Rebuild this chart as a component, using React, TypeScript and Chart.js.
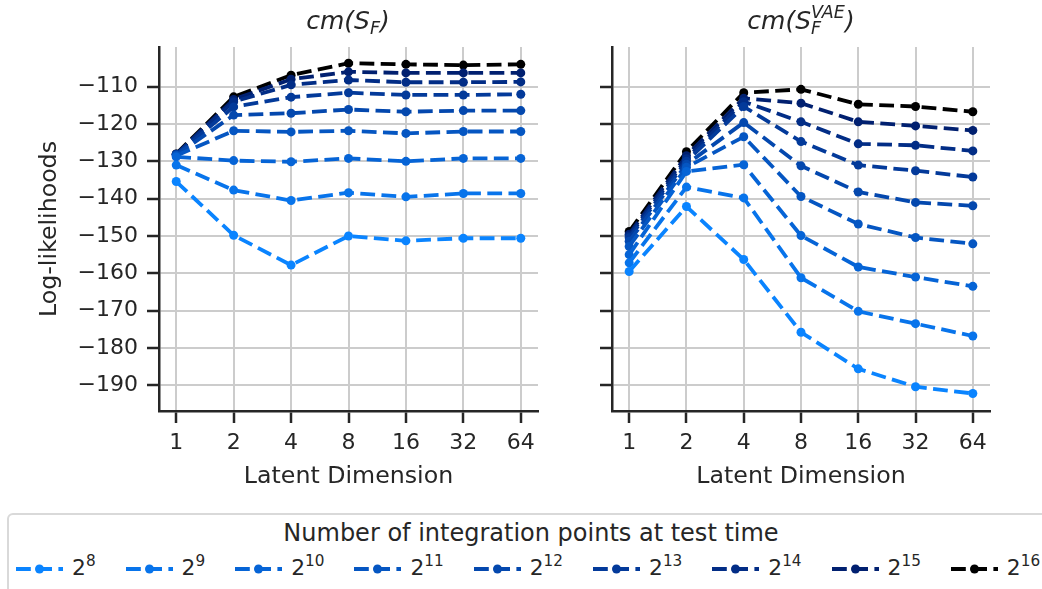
import React, { useEffect, useRef } from 'react';
import { Chart, registerables } from 'chart.js';

Chart.register(...registerables);

// ---- Data ----
const latentDims = ['1', '2', '4', '8', '16', '32', '64'];
const exponents = [8, 9, 10, 11, 12, 13, 14, 15, 16];
const yTickValues = [-190, -180, -170, -160, -150, -140, -130, -120, -110];
const seriesColors = [
  '#0a84ff', '#0874eb', '#0664d6', '#0556c2', '#0448ae',
  '#033a9a', '#022d86', '#012070', '#000000',
];

// cm(S_F)
const sf8 = [-135.4, -149.8, -157.8, -150.0, -151.3, -150.6, -150.6];
const sf9 = [-131.0, -137.7, -140.5, -138.4, -139.5, -138.6, -138.6];
const sf10 = [-128.8, -129.8, -130.1, -129.2, -130.0, -129.2, -129.2];
const sf11 = [-128.5, -121.8, -122.1, -121.8, -122.5, -122.0, -122.0];
const sf12 = [-128.3, -117.6, -117.1, -116.1, -116.7, -116.4, -116.4];
const sf13 = [-128.2, -115.4, -112.8, -111.6, -112.2, -112.2, -112.0];
const sf14 = [-128.1, -114.0, -109.5, -108.2, -108.8, -108.8, -108.7];
const sf15 = [-128.1, -113.4, -108.0, -106.0, -106.3, -106.3, -106.3];
const sf16 = [-128.0, -112.7, -106.9, -103.7, -104.0, -104.2, -104.0];

// cm(S_F^VAE)
const vae8 = [-159.5, -142.1, -156.3, -175.8, -185.6, -190.4, -192.2];
const vae9 = [-157.2, -136.9, -139.8, -161.2, -170.2, -173.5, -176.8];
const vae10 = [-155.0, -132.7, -130.9, -149.9, -158.3, -161.0, -163.5];
const vae11 = [-152.8, -131.6, -123.4, -139.4, -146.8, -150.4, -152.1];
const vae12 = [-151.4, -130.8, -119.6, -131.2, -138.2, -141.0, -141.9];
const vae13 = [-150.5, -130.0, -115.3, -124.7, -131.0, -132.5, -134.2];
const vae14 = [-150.0, -129.3, -114.0, -119.4, -125.3, -125.7, -127.2];
const vae15 = [-149.5, -128.5, -113.1, -114.4, -119.4, -120.5, -121.7];
const vae16 = [-148.8, -127.4, -111.6, -110.7, -114.7, -115.3, -116.7];

const sfSeries = [sf8, sf9, sf10, sf11, sf12, sf13, sf14, sf15, sf16];
const vaeSeries = [vae8, vae9, vae10, vae11, vae12, vae13, vae14, vae15, vae16];

// ---- Style ----
const FONT = 'DejaVu Sans';
const TEXT = '#262626';
const GRID = '#cccccc';
const LINE_W = 3.8;
const DASH = [14.8, 6.4];

function buildChart(canvas: HTMLCanvasElement, series: number[][], isLeft: boolean) {
  const datasets = series.map((vals, k) => ({
    label: '2^' + exponents[k],
    data: vals.map((v, i) => ({ x: i, y: v })),
    borderColor: seriesColors[k],
    backgroundColor: seriesColors[k],
    pointBackgroundColor: seriesColors[k],
    pointBorderColor: seriesColors[k],
    pointBorderWidth: 0,
    pointRadius: 4.5,
    borderWidth: LINE_W,
    borderDash: DASH,
    tension: 0,
    fill: false,
  }));
  const tickFont = { family: FONT, size: 22 };
  const labelFont = { family: FONT, size: 23.7 };
  return new Chart(canvas, {
    type: 'line',
    data: { datasets },
    options: {
      animation: false,
      responsive: false,
      devicePixelRatio: 1,
      layout: { padding: { top: 47, right: isLeft ? 32 : 52, bottom: 0, left: 0 } },
      plugins: {
        legend: { display: false },
        tooltip: { enabled: false },
        title: { display: false },
      },
      scales: {
        x: {
          type: 'linear',
          min: -0.3,
          max: 6.3,
          afterBuildTicks: (s: any) => {
            s.ticks = latentDims.map((_, i) => ({ value: i }));
          },
          afterFit: (s: any) => {
            s.height = 89;
          },
          ticks: {
            callback: (v: any) => latentDims[v],
            font: tickFont,
            color: TEXT,
            padding: 7,
            maxRotation: 0,
            autoSkip: false,
          },
          grid: { color: GRID, lineWidth: 2, tickColor: TEXT, tickWidth: 2.5, tickLength: 12 },
          border: { display: true, color: TEXT, width: 2.5 },
          title: {
            display: true,
            text: 'Latent Dimension',
            font: labelFont,
            color: TEXT,
            padding: { top: 0, bottom: 8.8 },
          },
        },
        y: {
          type: 'linear',
          min: -196.9,
          max: -99.35,
          afterBuildTicks: (s: any) => {
            s.ticks = yTickValues.map((v) => ({ value: v }));
          },
          afterFit: (s: any) => {
            s.width = isLeft ? 159 : 42;
          },
          ticks: {
            display: isLeft,
            callback: (v: any) => '\u2212' + Math.abs(v),
            font: tickFont,
            color: TEXT,
            padding: 9,
          },
          grid: { color: GRID, lineWidth: 2, tickColor: TEXT, tickWidth: 2.5, tickLength: 12 },
          border: { display: true, color: TEXT, width: 2.5 },
          title: {
            display: isLeft,
            text: 'Log-likelihoods',
            font: labelFont,
            color: TEXT,
            padding: { top: 35.8, bottom: 0 },
          },
        },
      },
    } as any,
  });
}

function Panel({ series, isLeft, left, width }: { series: number[][]; isLeft: boolean; left: number; width: number }) {
  const ref = useRef<HTMLCanvasElement>(null);
  useEffect(() => {
    if (!ref.current) return;
    const chart = buildChart(ref.current, series, isLeft);
    return () => chart.destroy();
  }, []);
  return (
    <canvas
      ref={ref}
      width={width}
      height={500}
      style={{ position: 'absolute', left, top: 0, width, height: 500 }}
    />
  );
}

function LegendSample({ color }: { color: string }) {
  return (
    <svg width={47} height={14} style={{ display: 'block', marginTop: 5, flex: 'none' }}>
      <line
        x1={0}
        y1={7}
        x2={47}
        y2={7}
        stroke={color}
        strokeWidth={LINE_W}
        strokeDasharray={DASH.join(' ')}
      />
      <circle cx={23.5} cy={7} r={4.5} fill={color} />
    </svg>
  );
}

export default function App() {
  const titleStyle: React.CSSProperties = {
    position: 'absolute',
    top: 5.5,
    width: 300,
    textAlign: 'center',
    fontFamily: FONT,
    fontStyle: 'italic',
    fontSize: 25,
    lineHeight: '30px',
    color: TEXT,
    whiteSpace: 'nowrap',
  };
  return (
    <div
      style={{
        position: 'fixed',
        left: 0,
        top: 0,
        width: 1042,
        height: 589,
        overflow: 'hidden',
        background: '#ffffff',
        fontFamily: FONT,
      }}
    >
      <Panel series={sfSeries} isLeft={true} left={0} width={570} />
      <Panel series={vaeSeries} isLeft={false} left={570} width={472} />

      <div style={{ ...titleStyle, left: 348 - 150 }}>
        cm(S
        <span style={{ position: 'relative', top: '0.3em', fontSize: '0.7em', lineHeight: 0 }}>F</span>)
      </div>
      <div style={{ ...titleStyle, left: 801 - 150 }}>
        cm(S
        <span style={{ position: 'relative', top: '-0.6em', fontSize: '0.7em', lineHeight: 0 }}>
          VAE
          <span style={{ position: 'absolute', left: 0, top: '0.9em', lineHeight: 'normal' }}>F</span>
        </span>
        )
      </div>

      <div
        style={{
          position: 'absolute',
          left: 7,
          top: 513,
          width: 1048,
          height: 90,
          border: '2px solid #d9d9d9',
          borderRadius: 6,
          background: '#ffffff',
          boxSizing: 'border-box',
        }}
      />
      <div
        style={{
          position: 'absolute',
          left: 7,
          width: 1048,
          top: 518,
          textAlign: 'center',
          fontSize: 24,
          lineHeight: '30px',
          color: TEXT,
          whiteSpace: 'nowrap',
        }}
      >
        Number of integration points at test time
      </div>
      <div
        style={{
          position: 'absolute',
          left: 16,
          top: 557,
          display: 'flex',
          flexDirection: 'row',
          alignItems: 'flex-start',
          whiteSpace: 'nowrap',
        }}
      >
        {exponents.map((e, k) => (
          <div key={e} style={{ display: 'flex', alignItems: 'flex-start', marginRight: 30 }}>
            <LegendSample color={seriesColors[k]} />
            <span
              style={{
                marginLeft: 9,
                fontSize: 21.8,
                lineHeight: '22px',
                height: 22,
                color: TEXT,
                display: 'block',
              }}
            >
              2
              <span style={{ fontSize: '0.7em', verticalAlign: '0.6em', lineHeight: 0 }}>{e}</span>
            </span>
          </div>
        ))}
      </div>
    </div>
  );
}
